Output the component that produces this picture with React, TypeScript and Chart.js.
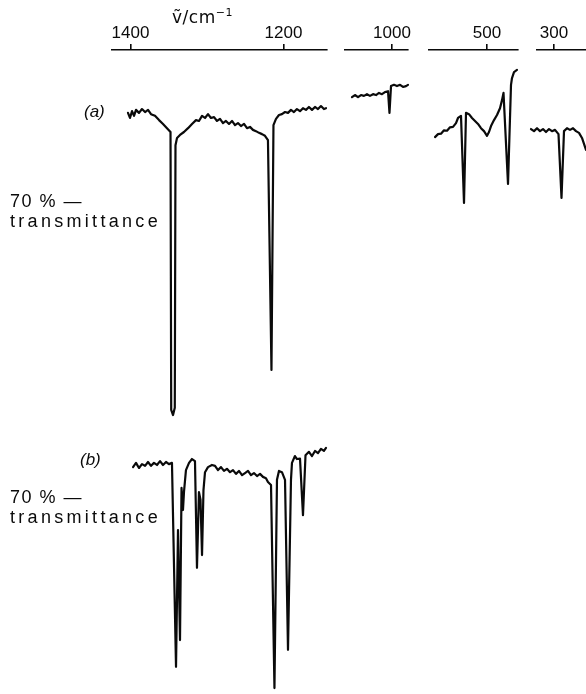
import React, { useEffect, useRef } from "react";
import { Chart, registerables } from "chart.js";

Chart.register(...registerables);

// ---- data: [wavenumber / cm^-1, transmittance / %] ----
const spectrumA_1400_1150: [number, number][] = [
  [1403.3, 90.5], [1400.7, 89.3], [1398.0, 90.9], [1395.4, 89.8], [1392.8, 91.2], [1388.9, 90.5],
  [1385.0, 91.4], [1381.0, 90.7], [1377.1, 91.2], [1373.2, 90.2], [1368.0, 89.8], [1362.7, 88.8],
  [1357.5, 87.9], [1352.3, 86.9], [1347.7, 86.0], [1346.8, 20.6], [1344.4, 19.4], [1342.1, 21.1],
  [1341.2, 82.9], [1339.2, 84.6], [1335.3, 85.3], [1330.1, 86.0], [1324.8, 86.9], [1319.6, 87.9],
  [1314.4, 88.8], [1310.5, 88.6], [1306.5, 89.8], [1302.6, 89.3], [1298.7, 90.2], [1294.8, 89.3],
  [1290.8, 89.5], [1286.9, 88.6], [1283.0, 89.1], [1279.1, 88.1], [1275.2, 88.6], [1271.2, 87.9],
  [1267.3, 88.6], [1263.4, 87.6], [1259.5, 88.1], [1255.6, 87.4], [1251.6, 87.9], [1247.7, 86.9],
  [1243.8, 87.2], [1239.9, 86.5], [1236.0, 86.2], [1232.0, 85.8], [1228.1, 85.5], [1224.2, 85.1],
  [1220.3, 84.1], [1215.7, 30.0], [1213.1, 87.6], [1209.8, 89.1], [1205.9, 90.0], [1202.0, 90.2],
  [1198.0, 90.7], [1194.1, 90.5], [1190.2, 91.2], [1186.3, 90.7], [1182.4, 91.4], [1178.4, 90.9],
  [1174.5, 91.6], [1170.6, 91.2], [1166.7, 91.9], [1162.7, 91.2], [1158.8, 91.9], [1154.9, 91.4],
  [1151.0, 92.1], [1147.1, 91.4], [1144.4, 91.6],
];

const spectrumB_1400_1150: [number, number][] = [
  [1396.7, 76.8], [1392.8, 77.8], [1388.9, 76.6], [1385.0, 77.5], [1381.0, 77.1], [1377.1, 78.0],
  [1373.2, 77.1], [1369.3, 77.8], [1365.4, 77.3], [1361.4, 78.2], [1357.5, 77.3], [1353.6, 78.0],
  [1349.7, 77.5], [1345.8, 77.8], [1340.5, 29.8], [1337.9, 62.0], [1335.3, 36.1], [1333.3, 71.9],
  [1331.4, 66.7], [1330.1, 70.9], [1327.5, 76.1], [1323.5, 77.8], [1319.6, 78.7], [1315.7, 78.2],
  [1313.1, 53.1], [1310.5, 70.9], [1308.5, 69.1], [1306.5, 56.1], [1304.6, 71.4], [1302.6, 75.6],
  [1298.7, 76.8], [1293.5, 77.3], [1289.5, 77.1], [1285.6, 76.1], [1281.7, 76.8], [1277.8, 75.9],
  [1273.9, 76.4], [1269.9, 75.6], [1266.0, 76.1], [1262.1, 75.2], [1258.2, 75.9], [1254.2, 74.9],
  [1250.3, 75.4], [1246.4, 75.9], [1242.5, 74.9], [1238.6, 75.4], [1234.6, 74.7], [1230.7, 75.2],
  [1226.8, 74.5], [1222.9, 74.2], [1220.3, 73.3], [1216.3, 72.6], [1211.8, 24.8], [1208.5, 73.8],
  [1205.9, 75.9], [1202.0, 75.6], [1198.0, 73.8], [1194.1, 33.8], [1190.2, 73.8], [1188.9, 77.8],
  [1185.0, 79.4], [1182.4, 78.7], [1178.4, 78.8], [1174.5, 65.5], [1171.2, 79.6], [1166.7, 80.4],
  [1162.7, 79.4], [1158.8, 80.6], [1154.9, 80.1], [1151.0, 81.1], [1147.1, 80.6], [1144.4, 81.3],
];

const spectrumA_1000: [number, number][] = [
  [1052.3, 94.2], [1048.4, 94.7], [1044.4, 94.2], [1040.5, 94.7], [1036.6, 94.5], [1032.7, 94.9],
  [1028.8, 94.5], [1024.8, 94.9], [1020.9, 94.7], [1017.0, 95.2], [1013.1, 94.9], [1009.2, 95.4],
  [1005.2, 95.6], [1003.3, 90.5], [1001.3, 96.8], [997.4, 97.1], [993.5, 96.8], [989.5, 97.1],
  [985.6, 96.6], [981.7, 96.8], [979.1, 97.1],
];

const spectrumA_500: [number, number][] = [
  [604, 84.8], [598, 85.5], [592, 85.6], [586, 86.4], [580, 86.3], [574, 87.1], [568, 87.2],
  [562, 88.1], [558, 89.3], [552, 89.8], [546, 69.3], [542, 90.5], [536, 90.2], [530, 89.3],
  [524, 88.6], [518, 87.9], [512, 86.9], [506, 86.2], [500, 85.1], [496, 86.0], [492, 87.4],
  [486, 88.8], [480, 90.0], [474, 91.6], [470, 93.5], [467, 95.2], [458, 73.8], [452, 97.1],
  [450, 98.7], [446, 100.1], [440, 100.6],
];

const spectrumA_300: [number, number][] = [
  [346, 86.7], [340, 86.2], [334, 86.9], [328, 86.2], [322, 86.7], [316, 86.0], [310, 86.7],
  [304, 86.2], [298, 86.5], [291, 85.5], [285, 70.5], [280, 86.2], [274, 86.9], [268, 86.5],
  [262, 86.9], [256, 86.2], [250, 85.8], [244, 84.6], [240, 83.2], [236, 81.8],
];

const ticks1 = [1400, 1200];
const ticks2 = [1000];
const ticks3 = [500];
const ticks4 = [300];

// ---- layout ----
const W = 586;
const H = 694;
const AXIS_Y = 50;
const PAD = 30;
const PX_PER_PCT = 4.25;
const MARK_A_Y = 200; // 70 % level of (a)
const MARK_B_Y = 496; // 70 % level of (b)
const INK = "#0a0a0a";

function yRange(markY: number) {
  const max = 70 + (markY - AXIS_Y) / PX_PER_PCT;
  const min = max - (H - AXIS_Y) / PX_PER_PCT;
  return { min, max };
}

type SegProps = {
  left: number;
  width: number;
  min: number;
  max: number;
  ticks: number[];
  a: [number, number][];
  b?: [number, number][];
};

function Segment({ left, width, min, max, ticks, a, b }: SegProps) {
  const ref = useRef<HTMLCanvasElement | null>(null);
  useEffect(() => {
    if (!ref.current) return;
    const ya = yRange(MARK_A_Y);
    const yb = yRange(MARK_B_Y);
    const line = {
      borderColor: INK,
      borderWidth: 2.2,
      pointRadius: 0,
      tension: 0,
      clip: false,
      borderJoinStyle: "round",
      borderCapStyle: "round",
    };
    const ds: any[] = [{ ...line, data: a.map(([x, y]) => ({ x, y })), yAxisID: "ya" }];
    if (b) ds.push({ ...line, data: b.map(([x, y]) => ({ x, y })), yAxisID: "yb" });
    const chart = new Chart(ref.current, {
      type: "line",
      data: { datasets: ds },
      options: {
        responsive: false,
        animation: false,
        events: [],
        layout: { padding: { left: PAD, right: PAD, top: AXIS_Y - 26, bottom: 0 } },
        plugins: { legend: { display: false }, tooltip: { enabled: false } },
        scales: {
          x: {
            type: "linear",
            position: "top",
            reverse: true,
            min,
            max,
            afterBuildTicks: (s: any) => {
              s.ticks = ticks.map((v) => ({ value: v }));
            },
            afterFit: (s: any) => {
              s.height = 26;
            },
            ticks: {
              callback: (v: any) => String(v),
              color: INK,
              font: { family: "Liberation Sans", size: 17 },
              padding: 0,
              maxRotation: 0,
              autoSkip: false,
            },
            grid: {
              display: true,
              drawOnChartArea: false,
              drawTicks: true,
              tickLength: 6,
              color: INK,
              lineWidth: 1.6,
            },
            border: { display: true, color: INK, width: 1.6 },
          },
          ya: { type: "linear", display: false, min: ya.min, max: ya.max },
          yb: { type: "linear", display: false, min: yb.min, max: yb.max },
        },
      } as any,
    });
    return () => chart.destroy();
  }, []);
  const cw = width + 2 * PAD;
  return (
    <canvas
      ref={ref}
      width={cw}
      height={H}
      style={{ position: "absolute", left: left - PAD, top: 0, width: cw, height: H }}
    />
  );
}

const textBase: React.CSSProperties = {
  position: "absolute",
  fontFamily: "Liberation Sans",
  color: INK,
  lineHeight: "18px",
  whiteSpace: "nowrap",
};

export default function App() {
  return (
    <div
      style={{
        position: "fixed",
        left: 0,
        top: 0,
        width: W,
        height: H,
        overflow: "hidden",
        background: "#fff",
      }}
    >
      <Segment left={112} width={215} min={1143.1} max={1424.2} ticks={ticks1} a={spectrumA_1400_1150} b={spectrumB_1400_1150} />
      <Segment left={345} width={63} min={979.1} max={1061.4} ticks={ticks2} a={spectrumA_1000} />
      <Segment left={429} width={89} min={438} max={616} ticks={ticks3} a={spectrumA_500} />
      <Segment left={537} width={49} min={236} max={334} ticks={ticks4} a={spectrumA_300} />

      <div style={{ ...textBase, left: 172, top: 4, fontSize: 17, fontFamily: "DejaVu Sans", letterSpacing: 0.5 }}>
        {"\u1E7D/cm"}
        <sup style={{ fontSize: 11, verticalAlign: "7px" }}>{"\u22121"}</sup>
      </div>

      <div style={{ ...textBase, left: 84, top: 103, fontSize: 17, fontStyle: "italic" }}>(a)</div>
      <div style={{ ...textBase, left: 10, top: 192, fontSize: 18, letterSpacing: 1.5 }}>{"70 % \u2014"}</div>
      <div style={{ ...textBase, left: 10, top: 212, fontSize: 18, letterSpacing: 3.3 }}>transmittance</div>

      <div style={{ ...textBase, left: 80, top: 451, fontSize: 17, fontStyle: "italic" }}>(b)</div>
      <div style={{ ...textBase, left: 10, top: 488, fontSize: 18, letterSpacing: 1.5 }}>{"70 % \u2014"}</div>
      <div style={{ ...textBase, left: 10, top: 508, fontSize: 18, letterSpacing: 3.3 }}>transmittance</div>
    </div>
  );
}
